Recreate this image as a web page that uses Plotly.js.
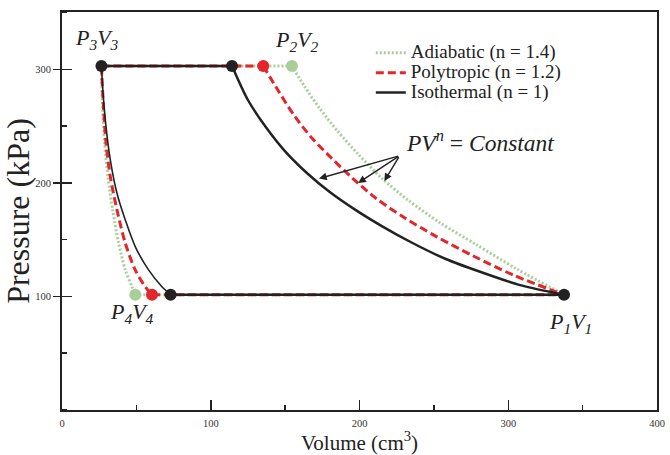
<!DOCTYPE html>
<html>
<head>
<meta charset="utf-8">
<script src="https://cdn.plot.ly/plotly-3.0.1.min.js"></script>
<style>html,body{margin:0;padding:0;background:#fff;}#chart{width:670px;height:455px;}</style>
</head>
<body>
<div id="chart"></div>
<script>
// ---- Data ----
const seriesNames = ['Adiabatic (n = 1.4)', 'Polytropic (n = 1.2)', 'Isothermal (n = 1)'];

const pHigh = 303;   // P2 = P3 (kPa)
const pLow = 101.5;  // P1 = P4 (kPa)
const v1 = 337.5;    // V1 (cm3)
const v3 = 26.5;     // V3 (cm3)

// Compression curves P1V1 -> P2V2
const isoCompV = [114.3, 125, 137, 150, 165, 180, 197, 215, 235, 258, 282, 308, 337.5];
const isoCompP = [303, 273, 249.2, 227.8, 208.3, 192, 176.5, 162, 147.5, 133, 121.3, 110, 101.5];
const polyCompV = [135.3, 145, 156, 168, 181, 195, 211, 230, 252, 276, 304, 337.5];
const polyCompP = [303, 282, 259.5, 239.5, 222, 204.5, 186.5, 169.5, 152.5, 136, 118.5, 101.5];
const adiCompV = [154.6, 163, 173, 185, 199, 215, 233, 254, 278, 306, 337.5];
const adiCompP = [303, 285, 266, 246, 225.5, 204, 184.5, 165, 146, 124, 101.5];

// Expansion curves P3V3 -> P4V4
const isoExpV = [26.5, 27.6, 29.6, 32.5, 37.0, 42.6, 49.3, 58.3, 67.2, 73.0];
const isoExpP = [303, 278.9, 249.4, 220.1, 190.7, 167.2, 143.7, 123.2, 108.5, 101.5];
const polyExpV = [26.5, 28.0, 29.6, 32.5, 37.0, 42.6, 49.3, 56.0, 60.5];
const polyExpP = [303, 264.1, 234.8, 205.4, 176.0, 146.7, 123.2, 108.5, 101.5];
const adiExpV = [26.5, 27.4, 28.7, 30.9, 34.1, 38.1, 42.6, 47.1, 49.3];
const adiExpP = [303, 264.1, 234.8, 205.4, 176.0, 146.7, 123.2, 108.5, 101.5];

// State points
const isoPointsV = [337.5, 114.3, 26.5, 73.0];
const isoPointsP = [101.5, 303, 303, 101.5];
const polyPointsV = [135.3, 60.5];
const polyPointsP = [303, 101.5];
const adiPointsV = [154.6, 49.3];
const adiPointsP = [303, 101.5];

// Arrow geometry (data coords)
const arrowTail = [227, 224];
const arrowHeadsV = [172.8, 199.1, 216.7];
const arrowHeadsP = [203.8, 200.0, 201.6];

// ---- Styles ----
const styles = [
  {color: '#a8cf9a', dash: '2px,2px', width: 3, wExp: 3},
  {color: '#e3262b', dash: '8px,4px', width: 3, wExp: 3},
  {color: '#222222', dash: 'solid', width: 2.5, wExp: 1.6}
];

const groups = [
  {comp: [adiCompV, adiCompP], exp: [adiExpV, adiExpP], pts: [adiPointsV, adiPointsP], v2: adiCompV[0], v4: adiExpV[adiExpV.length - 1]},
  {comp: [polyCompV, polyCompP], exp: [polyExpV, polyExpP], pts: [polyPointsV, polyPointsP], v2: polyCompV[0], v4: polyExpV[polyExpV.length - 1]},
  {comp: [isoCompV, isoCompP], exp: [isoExpV, isoExpP], pts: [isoPointsV, isoPointsP], v2: isoCompV[0], v4: isoExpV[isoExpV.length - 1]}
];

const traces = [];
groups.forEach((g, i) => {
  const s = styles[i];
  const name = seriesNames[i];
  traces.push({type: 'scatter', mode: 'lines', x: [v3, g.v2], y: [pHigh, pHigh],
    name: '<span style="font-size:19px">' + name + '</span>', legendgroup: name,
    showlegend: true, line: {color: s.color, dash: s.dash, width: s.width}, hoverinfo: 'skip'});
  traces.push({type: 'scatter', mode: 'lines', x: [g.v4, v1], y: [pLow, pLow], name: name, legendgroup: name,
    showlegend: false, line: {color: s.color, dash: s.dash, width: s.width}, hoverinfo: 'skip'});
  traces.push({type: 'scatter', mode: 'lines', x: g.comp[0], y: g.comp[1], name: name, legendgroup: name,
    showlegend: false, line: {color: s.color, dash: s.dash, width: s.width, shape: 'spline', smoothing: 0.8}, hoverinfo: 'skip'});
  traces.push({type: 'scatter', mode: 'lines', x: g.exp[0], y: g.exp[1], name: name, legendgroup: name,
    showlegend: false, line: {color: s.color, dash: s.dash, width: s.wExp, shape: 'spline', smoothing: 0.8}, hoverinfo: 'skip'});
  traces.push({type: 'scatter', mode: 'markers', x: g.pts[0], y: g.pts[1], name: name, legendgroup: name,
    showlegend: false, marker: {color: s.color, size: 12}, hoverinfo: 'skip'});
});
traces.push({type: 'scatter', mode: 'lines', x: [null], y: [null], yaxis: 'y2', showlegend: false, hoverinfo: 'skip'});

const serif = '"Liberation Serif", "Times New Roman", serif';

const annotations = [
  {x: 23.5, y: 327, xref: 'x', yref: 'y', text: '<i>P</i><sub><i>3</i></sub><i>V</i><sub><i>3</i></sub>', showarrow: false, font: {family: serif, size: 22, color: '#222'}},
  {x: 158.3, y: 325, xref: 'x', yref: 'y', text: '<i>P</i><sub><i>2</i></sub><i>V</i><sub><i>2</i></sub>', showarrow: false, font: {family: serif, size: 22, color: '#222'}},
  {x: 47, y: 85, xref: 'x', yref: 'y', text: '<i>P</i><sub><i>4</i></sub><i>V</i><sub><i>4</i></sub>', showarrow: false, font: {family: serif, size: 22, color: '#222'}},
  {x: 342, y: 77, xref: 'x', yref: 'y', text: '<i>P</i><sub><i>1</i></sub><i>V</i><sub><i>1</i></sub>', showarrow: false, font: {family: serif, size: 22, color: '#222'}},
  {x: 281, y: 236.5, xref: 'x', yref: 'y', text: '<i>PV</i><sup><i>n</i></sup> = <i>Constant</i>', showarrow: false, font: {family: serif, size: 23.5, color: '#222'}}
];
arrowHeadsV.forEach((v, k) => {
  annotations.push({x: v, y: arrowHeadsP[k], xref: 'x', yref: 'y', ax: arrowTail[0], ay: arrowTail[1], axref: 'x', ayref: 'y',
    text: '', showarrow: true, arrowhead: 2, arrowsize: 1.1, arrowwidth: 1.4, arrowcolor: '#222'});
});

const layout = {
  width: 670, height: 455,
  margin: {l: 62, r: 13, t: 12, b: 45, pad: 0},
  paper_bgcolor: '#ffffff', plot_bgcolor: '#ffffff',
  font: {family: serif},
  showlegend: true,
  legend: {x: 0.519, y: 0.935, xanchor: 'left', yanchor: 'top', bgcolor: 'rgba(0,0,0,0)', borderwidth: 0,
    font: {family: serif, size: 13, color: '#222'}, tracegroupgap: 0, itemwidth: 30},
  xaxis: {
    range: [0, 400], tick0: 0, dtick: 100, ticks: 'inside', ticklen: 10, tickwidth: 1.5, tickcolor: '#222',
    minor: {tickmode: 'linear', tick0: 0, dtick: 50, ticks: 'inside', ticklen: 5, tickwidth: 1.5, tickcolor: '#222'},
    showline: true, linewidth: 2, linecolor: '#222', mirror: true, showgrid: false, zeroline: false,
    tickfont: {family: serif, size: 10.5, color: '#333'}, ticklabelstandoff: 2,
    title: {text: 'Volume (cm<sup>3</sup>)', font: {family: serif, size: 21, color: '#222'}, standoff: 3},
    automargin: false
  },
  yaxis: {
    range: [0, 350.5], tickmode: 'array', tickvals: [100, 200, 300], ticktext: ['100', '200', '300'],
    ticks: 'outside', ticklen: 7, tickwidth: 1.5, tickcolor: '#222',
    minor: {tickmode: 'linear', tick0: 0, dtick: 50, ticks: 'inside', ticklen: 5, tickwidth: 1.5, tickcolor: '#222'},
    showline: true, linewidth: 2, linecolor: '#222', mirror: true, showgrid: false, zeroline: false,
    tickfont: {family: serif, size: 10.5, color: '#333'},
    title: {text: 'Pressure (kPa)', font: {family: serif, size: 32, color: '#222'}, standoff: 0},
    automargin: false
  },
  yaxis2: {
    overlaying: 'y', side: 'left', range: [0, 350.5], tickmode: 'array', tickvals: [100, 200, 300],
    ticks: 'inside', ticklen: 10, tickwidth: 1.5, tickcolor: '#222', showticklabels: false,
    showline: false, showgrid: false, zeroline: false
  },
  annotations: annotations
};

Plotly.newPlot('chart', traces, layout, {displayModeBar: false, staticPlot: true});
</script>
</body>
</html>
